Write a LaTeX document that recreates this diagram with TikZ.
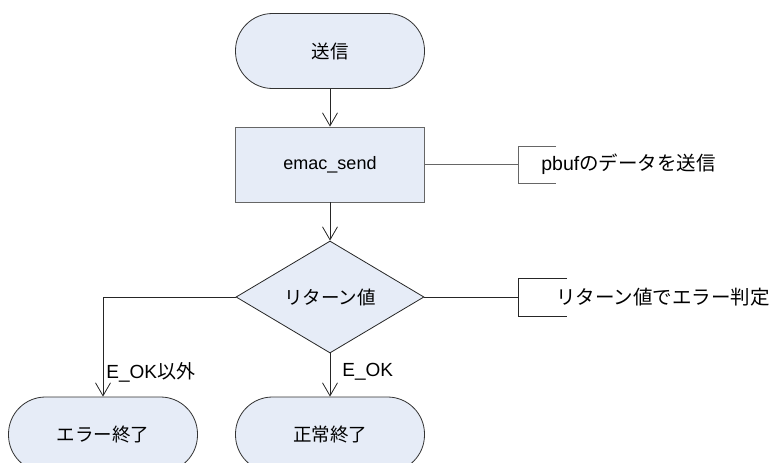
\documentclass[tikz,border=0pt]{standalone}
\usepackage{fontspec}
\setmainfont{Liberation Sans}
\newfontfamily\jp{Noto Sans CJK JP}
\usetikzlibrary{shapes.geometric,arrows.meta}
\definecolor{boxfill}{RGB}{230,236,247}

\tikzset{
  termbox/.style={draw=black!80,fill=boxfill,rectangle,rounded corners=37pt,
    minimum width=189pt,minimum height=75pt,font=\fontsize{18.5}{20}\selectfont},
  procbox/.style={draw=black!60,fill=boxfill,rectangle,
    minimum width=189pt,minimum height=75pt,font=\fontsize{18}{20}\selectfont},
  decbox/.style={draw=black!85,fill=boxfill,diamond,inner sep=0pt,
    minimum width=188pt,minimum height=112pt,font=\fontsize{18.5}{20}\selectfont},
  flow/.style={draw=black!85,-{Straight Barb[length=13pt,width=15pt]}},
  notetext/.style={anchor=west,inner sep=0pt,font=\fontsize{19.5}{21}\selectfont},
  edgetext/.style={anchor=west,inner sep=0pt,font=\fontsize{19}{21}\selectfont},
}

\begin{document}
\begin{tikzpicture}[x=1pt,y=-1pt,line width=0.8pt]
  \useasboundingbox (0,0) rectangle (771,463);
  \clip (0,0) rectangle (771,463);

  % flow
  \node[termbox] (start) at (330,51) {\jp 送信};
  \node[procbox] (send) at (330,164.5) {emac\_send};
  \node[decbox] (ret) at (330,297) {\jp リターン値};
  \node[termbox] (err) at (103,434.5) {\jp エラー終了};
  \node[termbox] (ok) at (330,434.5) {\jp 正常終了};

  \draw[flow] (start) -- (send);
  \draw[flow] (send) -- (ret);
  \draw[flow] (ret) -- (ok);
  \draw[flow] (ret.west) -| (err.north);

  \node[edgetext] (nglabel) at (106,372) {E\_OK{\jp 以外}};
  \node[edgetext] (oklabel) at (342,372) {E\_OK};

  % comments
  \coordinate (sendnote) at (518,164.5);
  \draw[black!60] (send.east) -- (sendnote);
  \draw[black!60] (sendnote) ++(38,-18.5) -- ++(-38,0) -- ++(0,37) -- ++(38,0);
  \node[notetext] (sendtxt) at (541,164.5) {pbuf{\jp のデータを送信}};

  \coordinate (retnote) at (518,297);
  \draw[black!85] (ret.east) -- (retnote);
  \draw[black!85] (retnote) ++(49,-19) -- ++(-49,0) -- ++(0,38) -- ++(49,0);
  \node[notetext] (rettxt) at (556,297) {\jp リターン値でエラー判定};
\end{tikzpicture}
\end{document}
